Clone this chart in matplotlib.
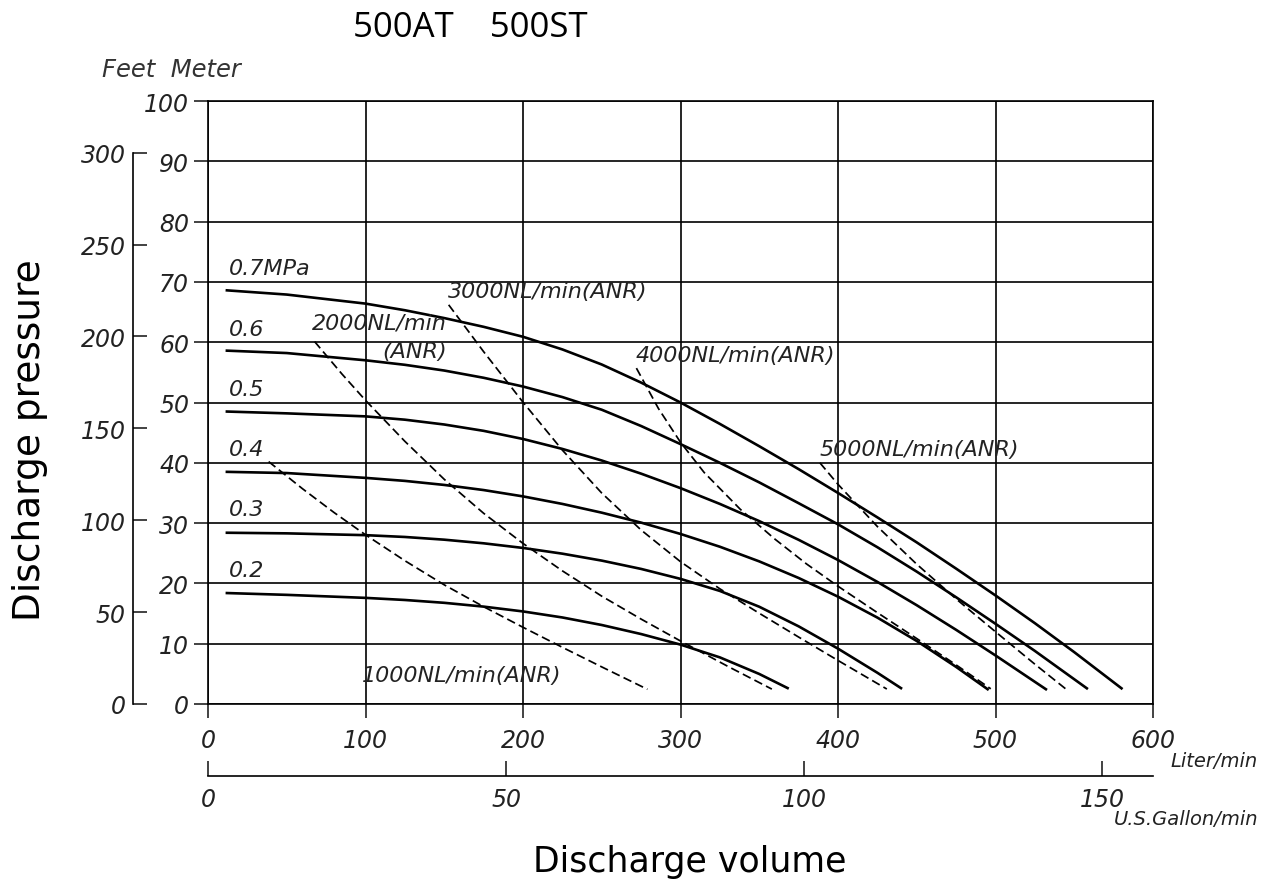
import matplotlib.pyplot as plt

plt.rcParams['font.family'] = ['DejaVu Sans']

# pressure curves (Liter/min, Meter)
p07_x = [12, 50, 100, 125, 150, 175, 200, 225, 250, 275, 300, 325, 350, 375, 400,
         425, 450, 475, 500, 525, 550, 580]
p07_y = [68.6, 67.9, 66.4, 65.3, 64.0, 62.55, 60.9, 58.8, 56.3, 53.3, 50.0, 46.45, 42.75,
         38.95, 35.0, 30.95, 26.8, 22.45, 18.0, 13.4, 8.6, 2.6]
p06_x = [12, 50, 100, 125, 150, 175, 200, 225, 250, 275, 300, 325, 350, 375, 400,
         425, 450, 475, 500, 525, 558]
p06_y = [58.6, 58.2, 57.0, 56.25, 55.3, 54.1, 52.65, 50.9, 48.8, 46.1, 43.1, 40.0, 36.75,
         33.3, 29.8, 26.0, 21.95, 17.7, 13.3, 8.8, 2.6]
p05_x = [12, 50, 100, 125, 150, 175, 200, 225, 250, 275, 300, 325, 350, 375, 400,
         425, 450, 475, 500, 532]
p05_y = [48.5, 48.2, 47.7, 47.15, 46.35, 45.3, 43.95, 42.3, 40.38, 38.2, 35.8, 33.18, 30.33,
         27.23, 23.88, 20.25, 16.38, 12.3, 8.05, 2.45]
p04_x = [12, 50, 100, 125, 150, 175, 200, 225, 250, 275, 300, 325, 350, 375, 400,
         425, 450, 475, 495]
p04_y = [38.5, 38.3, 37.5, 37.0, 36.33, 35.48, 34.43, 33.18, 31.73, 30.08, 28.2, 26.08, 23.65,
         20.9, 17.8, 14.33, 10.45, 6.15, 2.45]
p03_x = [12, 50, 100, 125, 150, 175, 200, 225, 250, 275, 300, 325, 350, 375, 400, 425, 440]
p03_y = [28.4, 28.3, 28.0, 27.7, 27.25, 26.65, 25.88, 24.93, 23.78, 22.4, 20.75, 18.75, 16.13,
         12.88, 9.18, 5.18, 2.63]
p02_x = [12, 50, 100, 125, 150, 175, 200, 225, 250, 275, 300, 325, 350, 368]
p02_y = [18.4, 18.1, 17.6, 17.25, 16.78, 16.15, 15.35, 14.35, 13.1, 11.6, 9.85, 7.73, 4.98, 2.64]

# air consumption curves
a1000_x = [38.5, 60, 80, 100, 125, 150, 175, 200, 225, 250, 279]
a1000_y = [40.2, 35.7, 31.76, 28.06, 23.76, 19.76, 16.14, 12.72, 9.4, 6.15, 2.44]
a2000_x = [67.7, 85, 100, 125, 150, 175, 200, 225, 250, 275, 300, 330, 358]
a2000_y = [60.1, 54.74, 50.36, 43.56, 37.26, 31.63, 26.63, 22.08, 17.88, 14.08, 10.45, 6.25, 2.47]
a3000_x = [152.8, 175, 200, 225, 250, 275, 300, 325, 350, 375, 400, 431]
a3000_y = [66.2, 58.43, 50.05, 42.1, 34.98, 28.85, 23.6, 19.1, 15.05, 11.1, 7.22, 2.48]
a4000_x = [272, 286, 300, 315, 338, 360, 380, 400, 425, 450, 475, 497]
a4000_y = [55.7, 49.0, 43.4, 38.4, 32.28, 27.33, 23.23, 19.53, 15.15, 10.85, 6.48, 2.52]
a5000_x = [388.5, 400, 425, 450, 475, 500, 525, 544.6]
a5000_y = [40.0, 36.43, 29.43, 23.18, 17.43, 11.98, 6.6, 2.5]

solid = [(p07_x, p07_y), (p06_x, p06_y), (p05_x, p05_y),
         (p04_x, p04_y), (p03_x, p03_y), (p02_x, p02_y)]
dashed = [(a1000_x, a1000_y), (a2000_x, a2000_y), (a3000_x, a3000_y),
          (a4000_x, a4000_y), (a5000_x, a5000_y)]

mpa_labels = ['0.7MPa', '0.6', '0.5', '0.4', '0.3', '0.2']
mpa_levels = [70, 60, 50, 40, 30, 20]

fig = plt.figure(figsize=(12.74, 8.95), dpi=100)
ax = fig.add_axes([208 / 1274, 190 / 895, 945 / 1274, 603 / 895])

for x, y in solid:
    ax.plot(x, y, color='black', lw=1.9, solid_joinstyle='round')
for x, y in dashed:
    ax.plot(x, y, color='black', lw=1.25, dashes=(5, 2.5))

ax.set_xlim(0, 600)
ax.set_ylim(0, 100)
ax.set_xticks(range(0, 601, 100))
ax.set_yticks(range(0, 101, 10))
ax.set_xticklabels([str(v) for v in range(0, 601, 100)], fontstyle='italic')
ax.set_yticklabels([str(v) for v in range(0, 101, 10)], fontstyle='italic')
ax.grid(True, color='black', lw=1.2)
ax.tick_params(direction='out', length=10, width=1.2, labelsize=17, colors='#222222')
ax.tick_params(axis='x', pad=7)
for s in ax.spines.values():
    s.set_linewidth(1.2)

# curve labels
lab_style = dict(fontsize=16, fontstyle='italic', color='#222222')
for t, lv in zip(mpa_labels, mpa_levels):
    ax.text(13, lv + 0.6, t, ha='left', va='bottom', **lab_style)
ax.text(151.7, 63.2, '2000NL/min', ha='right', va='center', **lab_style)
ax.text(151.7, 58.5, '(ANR)', ha='right', va='center', **lab_style)
ax.text(152.4, 68.5, '3000NL/min(ANR)', ha='left', va='center', **lab_style)
ax.text(271.7, 57.9, '4000NL/min(ANR)', ha='left', va='center', **lab_style)
ax.text(388, 42.3, '5000NL/min(ANR)', ha='left', va='center', **lab_style)
ax.text(97.8, 4.8, '1000NL/min(ANR)', ha='left', va='center', **lab_style)

# U.S. gallon axis
secx = ax.secondary_xaxis(-0.119, functions=(lambda l: l / 3.785, lambda g: g * 3.785))
secx.set_xticks([0, 50, 100, 150])
secx.set_xticklabels(['0', '50', '100', '150'], fontstyle='italic')
secx.tick_params(direction='in', length=11, width=1.2, labelsize=17, pad=8, colors='#222222')
secx.spines['bottom'].set_linewidth(1.2)

# feet axis
secy = ax.secondary_yaxis(-0.0794, functions=(lambda m: m / 0.3048, lambda f: f * 0.3048))
secy.set_yticks(range(0, 301, 50))
secy.set_yticklabels([str(v) for v in range(0, 301, 50)], fontstyle='italic')
secy.tick_params(direction='in', length=10, width=1.2, labelsize=17, pad=5, colors='#222222')
secy.spines['left'].set_linewidth(1.2)
secy.spines['left'].set_bounds(0, 300)

fig.text(470 / 1274, 1 - 28 / 895, '500AT    500ST', ha='center', va='center',
         fontsize=25, family=['Open Sans', 'DejaVu Sans'])
fig.text(102 / 1274, 1 - 70 / 895, 'Feet  Meter', ha='left', va='center',
         fontsize=17.5, fontstyle='italic', color='#333333')
fig.text(30 / 1274, 1 - 440 / 895, 'Discharge pressure', rotation=90,
         ha='center', va='center', fontsize=27)
fig.text(690 / 1274, 1 - 862 / 895, 'Discharge volume', ha='center', va='center', fontsize=25)
fig.text(1258 / 1274, 1 - 762 / 895, 'Liter/min', ha='right', va='center',
         fontsize=14, fontstyle='italic', color='#222222')
fig.text(1258 / 1274, 1 - 820 / 895, 'U.S.Gallon/min', ha='right', va='center',
         fontsize=14, fontstyle='italic', color='#222222')

fig.savefig('out.png', dpi=100)
